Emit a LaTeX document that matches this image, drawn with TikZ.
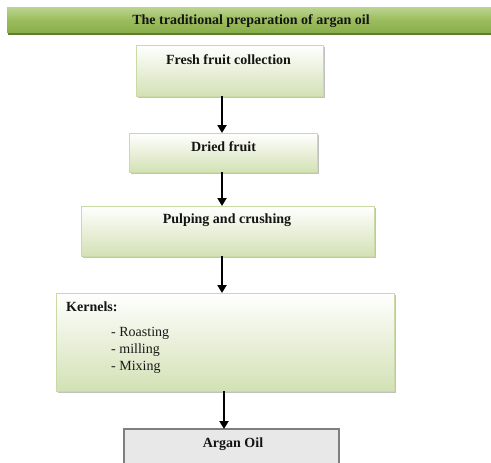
\documentclass[tikz,border=0pt]{standalone}
\usepackage{fontspec}
\setmainfont{Liberation Serif}
\usetikzlibrary{arrows.meta,shadows}
\definecolor{bordergreen}{HTML}{C9DAA6}
\definecolor{fillgreen}{HTML}{D3E1B5}
\definecolor{bannertop}{HTML}{BCD493}
\definecolor{bannermid}{HTML}{9CBD5E}
\definecolor{bannerbot}{HTML}{8AAE4C}
\definecolor{bannerline}{HTML}{5E7D2E}
\definecolor{oilfill}{HTML}{E8E8E8}
\definecolor{oilborder}{HTML}{7F7F7F}
\begin{document}
\begin{tikzpicture}[x=1pt,y=1pt,
  stepbox/.style={draw=bordergreen, line width=0.9pt, top color=white, bottom color=fillgreen,
    drop shadow={shadow xshift=1.5pt, shadow yshift=-1.8pt, fill=black!35, opacity=0.7},
    anchor=north west, inner sep=0pt, outer sep=0pt},
  oilbox/.style={draw=oilborder, line width=1.4pt, fill=oilfill, anchor=north west, inner sep=0pt, outer sep=0pt},
  banner/.style={draw=none, top color=bannertop, bottom color=bannerbot, middle color=bannermid,
    anchor=north west, inner sep=0pt, outer sep=0pt},
  title/.style={font=\bfseries\fontsize{14}{16}\selectfont, text=black!92, inner sep=0pt},
  item/.style={font=\fontsize{14}{16}\selectfont, text=black!90, inner sep=0pt, anchor=west},
  arr/.style={line width=2pt, -{Triangle[width=9pt,length=8pt]}}]
\useasboundingbox (0,0) rectangle (491,-463);
\clip (0,0) rectangle (491,-463);

% banner
\fill[bannerline] (8,-31) rectangle (495,-35);
\node[banner, minimum width=490pt, minimum height=25pt] (ban) at (7,-7) {};
\node[title] (bant) at (251,-21) {The traditional preparation of argan oil};

% boxes
\node[stepbox, minimum width=187pt, minimum height=51pt] (b1) at (136,-45) {};
\node[title] (t1) at (228.5,-60) {Fresh fruit collection};

\node[stepbox, minimum width=188pt, minimum height=39pt] (b2) at (129,-133) {};
\node[title] (t2) at (223.5,-147) {Dried fruit};

\node[stepbox, minimum width=293pt, minimum height=50pt] (b3) at (81,-206) {};
\node[title] (t3) at (227,-220) {Pulping and crushing};

\node[stepbox, minimum width=338pt, minimum height=98pt] (b4) at (56,-293) {};
\node[title, anchor=west] (t4) at (66,-307) {Kernels:};
\node[item] (i1) at (111,-333) {- Roasting};
\node[item] (i2) at (111,-350) {- milling};
\node[item] (i3) at (111,-367) {- Mixing};

\node[oilbox, minimum width=215pt, minimum height=50pt] (b5) at (124,-429) {};
\node[title] (t5) at (233,-444) {Argan Oil};

% arrows
\coordinate (ax) at (222,0);
\coordinate (ax2) at (224,0);
\draw[arr] (b1.south -| ax) -- (b2.north -| ax);
\draw[arr] (b2.south -| ax) -- (b3.north -| ax);
\draw[arr] (b3.south -| ax) -- (b4.north -| ax);
\draw[arr] (b4.south -| ax2) -- (b5.north -| ax2);
\end{tikzpicture}
\end{document}
